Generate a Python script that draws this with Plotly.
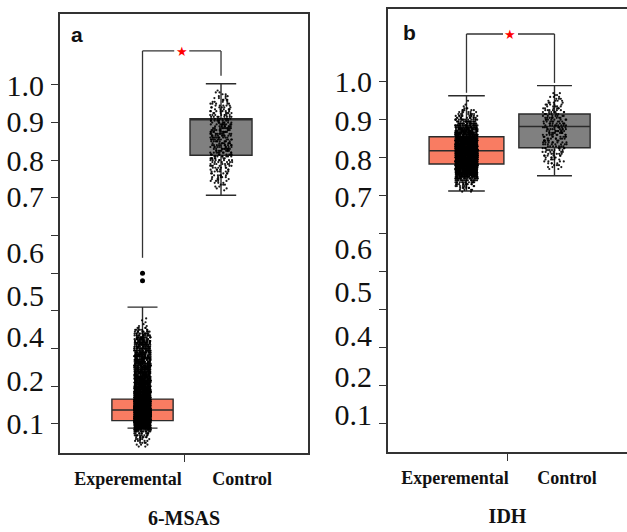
import numpy as np
import plotly.graph_objects as go

# ---------------- data ----------------
groups = ["Experemental", "Control"]

# Box statistics: [Experemental, Control]
msas_q1 = [0.109, 0.813]
msas_median = [0.137, 0.910]   # no median line visible in the Control box
msas_q3 = [0.166, 0.910]
msas_lower = [0.089, 0.707]
msas_upper = [0.410, 1.003]
msas_outliers = [0.500, 0.480]

idh_q1 = [0.783, 0.826]
idh_median = [0.818, 0.882]
idh_q3 = [0.855, 0.915]
idh_lower = [0.712, 0.752]
idh_upper = [0.963, 0.990]

# individual observations, estimated as (value, count) histograms
msas_exp_vals = [0.040, 0.045, 0.050, 0.055, 0.060, 0.065, 0.070, 0.075, 0.080, 0.085,
                 0.090, 0.095, 0.100, 0.105, 0.110, 0.115, 0.120, 0.125, 0.130, 0.135,
                 0.140, 0.145, 0.150, 0.155, 0.160, 0.165, 0.170, 0.175, 0.180, 0.185,
                 0.190, 0.195, 0.200, 0.205, 0.210, 0.215, 0.220, 0.225, 0.230, 0.235,
                 0.240, 0.245, 0.250, 0.255, 0.260, 0.265, 0.270, 0.275, 0.280, 0.285,
                 0.290, 0.295, 0.300, 0.305, 0.310, 0.315, 0.320, 0.325, 0.330, 0.335,
                 0.340, 0.345, 0.350, 0.355, 0.360, 0.365, 0.370, 0.375, 0.380]
msas_exp_cnts = [2, 3, 4, 5, 6, 7, 9, 10, 14, 25,
                 60, 90, 110, 130, 140, 140, 140, 140, 135, 130,
                 125, 120, 110, 100, 90, 80, 72, 66, 62, 58,
                 55, 52, 50, 48, 46, 44, 42, 40, 38, 36,
                 35, 34, 33, 32, 31, 30, 29, 28, 27, 26,
                 25, 24, 23, 22, 21, 20, 19, 18, 16, 14,
                 12, 10, 7, 4, 2, 1, 1, 1, 1]

msas_ctl_vals = [0.720, 0.725, 0.730, 0.735, 0.740, 0.745, 0.750, 0.755, 0.760, 0.765,
                 0.770, 0.775, 0.780, 0.785, 0.790, 0.795, 0.800, 0.805, 0.810, 0.815,
                 0.820, 0.825, 0.830, 0.835, 0.840, 0.845, 0.850, 0.855, 0.860, 0.865,
                 0.870, 0.875, 0.880, 0.885, 0.890, 0.895, 0.900, 0.905, 0.910, 0.915,
                 0.920, 0.925, 0.930, 0.935, 0.940, 0.945, 0.950, 0.955, 0.960, 0.965,
                 0.970, 0.975, 0.980, 0.985]
msas_ctl_cnts = [1, 2, 2, 3, 3, 4, 4, 5, 5, 5,
                 6, 6, 6, 7, 7, 7, 8, 8, 8, 9,
                 9, 9, 10, 10, 10, 10, 10, 11, 11, 11,
                 11, 11, 10, 10, 10, 10, 9, 9, 9, 8,
                 8, 7, 7, 6, 6, 5, 5, 4, 4, 3,
                 3, 2, 2, 1]

idh_exp_vals = [0.710, 0.715, 0.720, 0.725, 0.730, 0.735, 0.740, 0.745, 0.750, 0.755,
                0.760, 0.765, 0.770, 0.775, 0.780, 0.785, 0.790, 0.795, 0.800, 0.805,
                0.810, 0.815, 0.820, 0.825, 0.830, 0.835, 0.840, 0.845, 0.850, 0.855,
                0.860, 0.865, 0.870, 0.875, 0.880, 0.885, 0.890, 0.895, 0.900, 0.905,
                0.910, 0.915, 0.920, 0.925, 0.930, 0.935, 0.940, 0.950]
idh_exp_cnts = [2, 4, 6, 8, 10, 14, 18, 25, 40, 55,
                65, 70, 75, 80, 85, 88, 90, 92, 92, 92,
                90, 90, 88, 85, 82, 78, 74, 70, 64, 58,
                52, 46, 40, 35, 30, 26, 22, 18, 15, 12,
                10, 8, 6, 5, 3, 1, 1, 1]

idh_ctl_vals = [0.770, 0.775, 0.780, 0.785, 0.790, 0.795, 0.800, 0.805, 0.810, 0.815,
                0.820, 0.825, 0.830, 0.835, 0.840, 0.845, 0.850, 0.855, 0.860, 0.865,
                0.870, 0.875, 0.880, 0.885, 0.890, 0.895, 0.900, 0.905, 0.910, 0.915,
                0.920, 0.925, 0.930, 0.935, 0.940, 0.945, 0.950, 0.955, 0.960, 0.965,
                0.970]
idh_ctl_cnts = [2, 3, 3, 4, 4, 5, 5, 6, 6, 6,
                7, 7, 7, 8, 8, 8, 8, 9, 9, 9,
                9, 9, 9, 9, 9, 8, 8, 8, 7, 7,
                7, 6, 6, 5, 5, 4, 4, 3, 3, 2,
                2]

# y-axis tick marks and (as printed) tick labels
ytick_vals = [0.1, 0.2, 0.3, 0.4, 0.5, 0.6, 0.7, 0.8, 0.9, 1.0]
ylabel_text = ["0.1", "0.2", "0.4", "0.5", "0.6", "0.7", "0.8", "0.9", "1.0"]
ylabel_pos_a = [0.100, 0.215, 0.331, 0.442, 0.555, 0.705, 0.800, 0.902, 0.997]
ylabel_pos_b = [0.122, 0.222, 0.331, 0.447, 0.560, 0.697, 0.795, 0.897, 1.000]

# ---------------- styling ----------------
SALMON = "#F97C62"
GRAY = "#808080"
EDGE = "#2b2b2b"
FRAME = "#333333"
SERIF = "Liberation Serif"

XPOS = [0, 1]
fig = go.Figure()


def add_panel(xa, ya, q1, med, q3, lo, hi, widths, samples, jit):
    for i in range(2):
        fig.add_trace(go.Box(
            x=[XPOS[i]], q1=[q1[i]], median=[med[i]], q3=[q3[i]],
            lowerfence=[lo[i]], upperfence=[hi[i]],
            fillcolor=[SALMON, GRAY][i], line=dict(color=EDGE, width=1.4),
            width=widths[i], whiskerwidth=0.49, boxpoints=False,
            xaxis=xa, yaxis=ya, showlegend=False, hoverinfo="skip"))
    for i in range(2):
        vals, cnts = samples[i]
        ys = np.repeat(np.array(vals), np.array(cnts))
        fig.add_trace(go.Box(
            x=np.full(len(ys), XPOS[i]), y=ys, boxpoints="all", jitter=jit[i],
            pointpos=0, width=widths[i], fillcolor="rgba(0,0,0,0)",
            line=dict(color="rgba(0,0,0,0)", width=0),
            marker=dict(color="black", size=2.2, opacity=0.9),
            xaxis=xa, yaxis=ya, showlegend=False, hoverinfo="skip"))


add_panel("x", "y", msas_q1, msas_median, msas_q3, msas_lower, msas_upper,
          [0.78, 0.79], [(msas_exp_vals, msas_exp_cnts), (msas_ctl_vals, msas_ctl_cnts)],
          [0.27, 0.36])
fig.add_trace(go.Scatter(x=[XPOS[0]] * len(msas_outliers), y=msas_outliers, mode="markers",
                         marker=dict(color="black", size=5), xaxis="x", yaxis="y",
                         showlegend=False, hoverinfo="skip"))
add_panel("x2", "y2", idh_q1, idh_median, idh_q3, idh_lower, idh_upper,
          [0.85, 0.81], [(idh_exp_vals, idh_exp_cnts), (idh_ctl_vals, idh_ctl_cnts)],
          [0.30, 0.34])

W, H = 627, 532
xr_a = [-1.051, 2.108]
xr_b = [-0.892, 1.824]
yr_a = [0.023, 1.188]
yr_b = [0.0235, 1.192]

tickfont = dict(family=SERIF, size=30, color="#111")
catfont = dict(family=SERIF, size=18, color="#111", weight="bold")
titlefont = dict(family=SERIF, size=20, color="#111", weight="bold")

base_x = dict(showgrid=False, zeroline=False, showline=True, linecolor=FRAME, linewidth=1.5,
              ticks="outside", ticklen=7, tickcolor=FRAME, tickwidth=1.2, showticklabels=False)
base_y = dict(showgrid=False, zeroline=False, showline=True, linecolor=FRAME, linewidth=1.5,
              ticks="outside", ticklen=7, tickcolor=FRAME, tickwidth=1.2,
              tickvals=ytick_vals, showticklabels=False)

fig.update_layout(
    width=W, height=H, margin=dict(l=0, r=0, t=0, b=0),
    paper_bgcolor="white", plot_bgcolor="white", showlegend=False,
    boxmode="overlay",
    xaxis=dict(base_x, domain=[60 / W, 308 / W], range=xr_a, tickvals=[sum(xr_a) / 2],
               mirror=True, anchor="y"),
    yaxis=dict(base_y, domain=[1 - 453 / H, 1 - 14 / H], range=yr_a, mirror=True, anchor="x"),
    xaxis2=dict(base_x, domain=[388 / W, 1.0], range=xr_b, tickvals=[sum(xr_b) / 2],
                mirror=True, anchor="y2"),
    yaxis2=dict(base_y, domain=[1 - 452 / H, 1 - 9 / H], range=yr_b, mirror=False, anchor="x2"),
    # label axes (text only)
    xaxis3=dict(overlaying="x", anchor="y", range=xr_a, showgrid=False, zeroline=False,
                showline=False, ticks="", tickvals=[-0.185, 1.268], ticktext=groups,
                tickfont=catfont, ticklabelstandoff=13,
                title=dict(text="6-MSAS", font=titlefont, standoff=22)),
    xaxis4=dict(overlaying="x2", anchor="y2", range=xr_b, showgrid=False, zeroline=False,
                showline=False, ticks="", tickvals=[-0.131, 1.142], ticktext=groups,
                tickfont=catfont, ticklabelstandoff=13,
                title=dict(text="IDH", font=titlefont, standoff=21)),
    yaxis3=dict(overlaying="y", anchor="x", range=yr_a, showgrid=False, zeroline=False,
                showline=False, ticks="", tickvals=ylabel_pos_a, ticktext=ylabel_text,
                tickfont=tickfont, ticklabelstandoff=15),
    yaxis4=dict(overlaying="y2", anchor="x2", range=yr_b, showgrid=False, zeroline=False,
                showline=False, ticks="", tickvals=ylabel_pos_b, ticktext=ylabel_text,
                tickfont=tickfont, ticklabelstandoff=15),
)

# invisible traces so the label axes are rendered
for xa, ya, xr, yr in [("x3", "y3", xr_a, yr_a), ("x4", "y4", xr_b, yr_b)]:
    fig.add_trace(go.Scatter(x=[xr[0]], y=[yr[0]], mode="markers", marker=dict(opacity=0),
                             xaxis=xa, yaxis=ya, showlegend=False, hoverinfo="skip"))

# significance brackets
def bracket(xa, ya, top, left_bottom, right_bottom, gap):
    ln = dict(color=FRAME, width=1.3)
    kw = dict(type="line", xref=xa, yref=ya, line=ln)
    fig.add_shape(x0=XPOS[0], x1=XPOS[0], y0=left_bottom, y1=top, **kw)
    fig.add_shape(x0=XPOS[0], x1=0.5 - gap, y0=top, y1=top, **kw)
    fig.add_shape(x0=0.5 + gap, x1=XPOS[1], y0=top, y1=top, **kw)
    fig.add_shape(x0=XPOS[1], x1=XPOS[1], y0=right_bottom, y1=top, **kw)
    fig.add_annotation(x=0.5, y=top, xref=xa, yref=ya, text="★", showarrow=False,
                       font=dict(color="#ff0000", size=13), xanchor="center", yanchor="middle")


bracket("x", "y", 1.090, 0.541, 1.024, 0.096)
bracket("x2", "y2", 1.126, 0.971, 0.997, 0.085)

# panel letters
for txt, px, py in [("a", 77, 34), ("b", 409.5, 33)]:
    fig.add_annotation(x=px / W, y=1 - py / H, xref="paper", yref="paper", text=txt,
                       showarrow=False, xanchor="center", yanchor="middle",
                       font=dict(family="Liberation Sans", size=21, color="#111", weight="bold"))

fig.write_html("out.html")
